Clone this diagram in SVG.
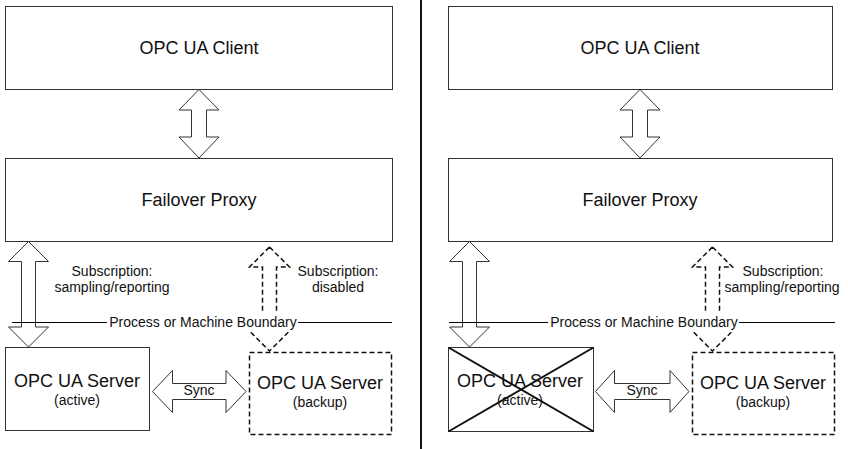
<svg xmlns="http://www.w3.org/2000/svg" width="848" height="449" viewBox="0 0 848 449">
<style>
.box{fill:#fff;stroke:#333;stroke-width:1}
.dbox{fill:#fff;stroke:#111;stroke-width:1.5;stroke-dasharray:5,3}
.arr{fill:#fff;stroke:#333;stroke-width:1}
.darr{fill:none;stroke:#111;stroke-width:1.5;stroke-dasharray:5,3}
.t18{font-family:"Liberation Sans",Arial,sans-serif;font-size:18px;fill:#111;text-anchor:middle}
.t14{font-family:"Liberation Sans",Arial,sans-serif;font-size:14px;fill:#111;text-anchor:middle}
.bline{stroke:#000;stroke-width:1}
</style>
<rect width="848" height="449" fill="#fff"/>
<line x1="421" y1="0" x2="421" y2="449" stroke="#111" stroke-width="2"/>

<g id="client-left"><rect class="box" x="5.5" y="6.5" width="387" height="83"/><text class="t18" x="199" y="54">OPC UA Client</text></g>
<g id="proxy-left"><rect class="box" x="5.5" y="158.5" width="387" height="83"/><text class="t18" x="199" y="206">Failover Proxy</text></g>
<g id="client-right"><rect class="box" x="448.5" y="6.5" width="384" height="83"/><text class="t18" x="640" y="54">OPC UA Client</text></g>
<g id="proxy-right"><rect class="box" x="448.5" y="158.5" width="384" height="83"/><text class="t18" x="640" y="206">Failover Proxy</text></g>

<g id="connectors">
<polygon class="arr" points="199,89.5 219,110 206.5,110 206.5,137 219,137 199,158 179,137 191.5,137 191.5,110 179,110"/>
<polygon class="arr" points="640,89.5 660,110 647.5,110 647.5,137 660,137 640,158 620,137 632.5,137 632.5,110 620,110"/>
<polygon class="arr" points="28.5,241.5 48.5,261.5 35.5,261.5 35.5,327 48.5,327 28.5,347 8.5,327 21.5,327 21.5,261.5 8.5,261.5"/>
<polygon class="arr" points="469.5,241.5 489.5,261.5 476.5,261.5 476.5,327 489.5,327 469.5,347 449.5,327 462.5,327 462.5,261.5 449.5,261.5"/>
<polygon class="darr" points="269.5,247 289.5,267 276.5,267 276.5,331 289.5,331 269.5,351 249.5,331 262.5,331 262.5,267 249.5,267"/>
<polygon class="darr" points="712.5,247 732.5,267 719.5,267 719.5,331 732.5,331 712.5,351 692.5,331 705.5,331 705.5,267 692.5,267"/>
<polygon class="arr" points="152.5,391.5 172.5,370.5 172.5,383.5 226,383.5 226,370.5 246,391.5 226,412.5 226,399.5 172.5,399.5 172.5,412.5"/>
<polygon class="arr" points="595.5,391.5 614.5,370.5 614.5,383.5 670,383.5 670,370.5 689,391.5 670,412.5 670,399.5 614.5,399.5 614.5,412.5"/>
<text class="t14" x="199" y="395">Sync</text>
<text class="t14" x="642" y="395">Sync</text>
<text class="t14" x="112" y="276">Subscription:</text>
<text class="t14" x="112" y="292">sampling/reporting</text>
<text class="t14" x="338" y="276">Subscription:</text>
<text class="t14" x="338" y="292">disabled</text>
<text class="t14" x="783" y="276">Subscription:</text>
<text class="t14" x="782" y="292">sampling/reporting</text>
<line class="bline" x1="12" y1="322.5" x2="392" y2="322.5"/>
<line class="bline" x1="449" y1="322.5" x2="835" y2="322.5"/>
<rect x="107" y="313" width="191" height="19" fill="#fff"/>
<rect x="548" y="313" width="191" height="19" fill="#fff"/>
<text class="t14" x="203" y="327">Process or Machine Boundary</text>
<text class="t14" x="644" y="327">Process or Machine Boundary</text>
</g>

<g id="server-active-left"><rect class="box" x="5.5" y="347.5" width="144" height="83"/><text class="t18" x="77" y="387">OPC UA Server</text><text class="t14" x="77" y="405">(active)</text></g>
<g id="server-backup-left"><rect class="dbox" x="249.5" y="352.5" width="142" height="82"/><text class="t18" x="320" y="389">OPC UA Server</text><text class="t14" x="320" y="407">(backup)</text></g>
<g id="server-active-right"><rect class="box" x="448.5" y="347.5" width="145" height="84"/><text class="t18" x="520" y="387">OPC UA Server</text><text class="t14" x="520" y="405">(active)</text><line x1="448.5" y1="347.5" x2="593.5" y2="431.5" stroke="#111" stroke-width="2"/><line x1="448.5" y1="431.5" x2="593.5" y2="347.5" stroke="#111" stroke-width="2"/></g>
<g id="server-backup-right"><rect class="dbox" x="692.5" y="352.5" width="142" height="82"/><text class="t18" x="763" y="389">OPC UA Server</text><text class="t14" x="763" y="407">(backup)</text></g>
</svg>
